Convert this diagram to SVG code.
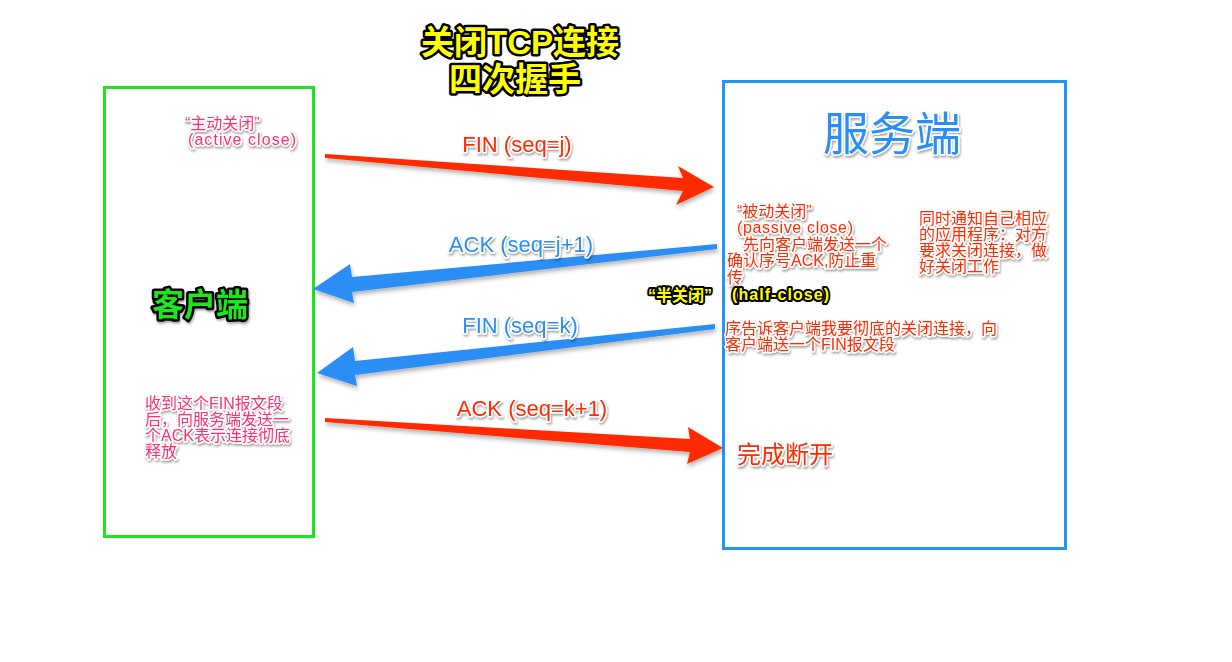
<svg xmlns="http://www.w3.org/2000/svg" width="1232" height="662" viewBox="0 0 1232 662">
<defs>
<filter id="sh" x="-10%" y="-30%" width="120%" height="160%">
<feDropShadow dx="1" dy="2" stdDeviation="1.2" flood-color="#000" flood-opacity="0.35"/>
</filter>
<filter id="ash" x="-5%" y="-30%" width="110%" height="160%">
<feDropShadow dx="1" dy="3" stdDeviation="2" flood-color="#000" flood-opacity="0.3"/>
</filter>
</defs>
<style>
text{font-family:"Liberation Sans","Noto Sans CJK SC",sans-serif;}
.glow{stroke:#fff;stroke-width:3;paint-order:stroke;stroke-linejoin:round;}
.title{font-size:33px;font-weight:bold;fill:#ffff00;stroke:#000;stroke-width:5;paint-order:stroke;stroke-linejoin:round;}
.lbl{font-size:22px;}
.red{fill:#ff2a00;}
.blue{fill:#2b8ef5;}
.pink{fill:#ff2f6e;font-size:16px;}
.note{fill:#ff2a00;font-size:16px;}
.yel{fill:#ffff00;font-size:16px;font-weight:bold;stroke:#000;stroke-width:4;paint-order:stroke;stroke-linejoin:round;}
</style>
<rect width="1232" height="662" fill="#fff"/>

<g id="title">
<text class="title" x="520" y="54" text-anchor="middle">关闭TCP连接</text>
<text class="title" x="515" y="91" text-anchor="middle">四次握手</text>
</g>

<g id="client">
<rect x="104.5" y="87.5" width="209" height="449" fill="none" stroke="#1ee61e" stroke-width="3"/>
<text x="200" y="316" text-anchor="middle" font-size="32" font-weight="bold" fill="#1ee61e" stroke="#000" stroke-width="5" style="paint-order:stroke;stroke-linejoin:round" filter="url(#sh)">客户端</text>
<g filter="url(#sh)">
<text class="pink glow" x="185" y="129">“主动关闭”</text>
<text class="pink glow" x="188" y="145" textLength="108" lengthAdjust="spacing">(active close)</text>
<text class="pink glow" x="145" y="409">收到这个FIN报文段</text>
<text class="pink glow" x="145" y="425">后，向服务端发送一</text>
<text class="pink glow" x="145" y="441">个ACK表示连接彻底</text>
<text class="pink glow" x="145" y="457">释放</text>
</g>
</g>

<g id="server">
<rect x="723.5" y="81.5" width="342" height="467" fill="none" stroke="#2196f3" stroke-width="3"/>
<text class="glow" x="892" y="150" text-anchor="middle" font-size="46" fill="#2b8ef5" stroke-width="5" filter="url(#sh)">服务端</text>
<g filter="url(#sh)">
<text class="note glow" x="737" y="217">“被动关闭”</text>
<text class="note glow" x="737" y="233" textLength="116" lengthAdjust="spacing">(passive close)</text>
<text class="note glow" x="743" y="250">先向客户端发送一个</text>
<text class="note glow" x="727" y="266">确认序号ACK,防止重</text>
<text class="note glow" x="727" y="283">传</text>
<text class="note glow" x="919" y="224">同时通知自己相应</text>
<text class="note glow" x="919" y="240">的应用程序：对方</text>
<text class="note glow" x="919" y="256">要求关闭连接，做</text>
<text class="note glow" x="919" y="272">好关闭工作</text>
<text class="note glow" x="725" y="334">序告诉客户端我要彻底的关闭连接，向</text>
<text class="note glow" x="725" y="350">客户端送一个FIN报文段</text>
<text class="glow" x="737" y="463" font-size="24" fill="#ff2a00">完成断开</text>
</g>
</g>

<g id="half-close">
<text class="yel" x="648" y="301">“半关闭”</text>
<text class="yel" x="732" y="300" textLength="97" lengthAdjust="spacing">(half-close)</text>
</g>

<g id="connectors">
<g filter="url(#ash)">
<polygon fill="#ff2a00" points="325,154 683,178 678,166 714,187 676,205 683,191 325,158"/>
<polygon fill="#2b8ef5" points="717,244 352,277 350,264 313,289 354,303 352,292 717,249"/>
<polygon fill="#2b8ef5" points="715,324 355,361 353,347 317,373 357,386 355,375 715,329"/>
<polygon fill="#ff2a00" points="325,418 690,439 688,427 723,448 687,464 690,452 325,422"/>
</g>
<g filter="url(#sh)">
<text class="lbl red glow" x="517" y="152" text-anchor="middle">FIN (seq=j)</text>
<text class="lbl blue glow" x="521" y="252" text-anchor="middle">ACK (seq=j+1)</text>
<text class="lbl blue glow" x="520" y="333" text-anchor="middle">FIN (seq=k)</text>
<text class="lbl red glow" x="532" y="416" text-anchor="middle">ACK (seq=k+1)</text>
</g>
</g>
</svg>
